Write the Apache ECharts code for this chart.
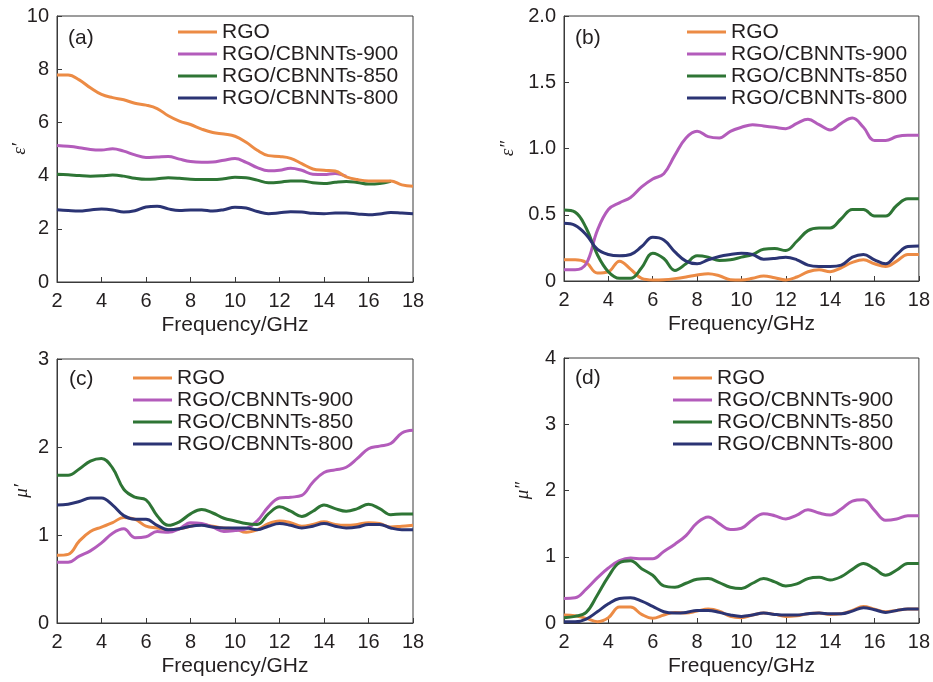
<!DOCTYPE html>
<html>
<head>
<meta charset="utf-8">
<script src="https://cdn.jsdelivr.net/npm/echarts@6/dist/echarts.min.js"></script>
<style>
  html, body { margin: 0; padding: 0; background: #fff; }
  #chart { width: 933px; height: 682px; }
</style>
</head>
<body>
<div id="chart"></div>
<script>
// Frequency sweep (GHz), sampled every 0.5 GHz
const freq = [2, 2.5, 3, 3.5, 4, 4.5, 5, 5.5, 6, 6.5, 7, 7.5, 8, 8.5, 9, 9.5, 10,
  10.5, 11, 11.5, 12, 12.5, 13, 13.5, 14, 14.5, 15, 15.5, 16, 16.5, 17, 17.5, 18];

const seriesNames = ['RGO', 'RGO/CBNNTs-900', 'RGO/CBNNTs-850', 'RGO/CBNNTs-800'];
const seriesColors = ['#EC8B45', '#B35CBB', '#2E7535', '#2B3474'];
const panelLabels = ['(a)', '(b)', '(c)', '(d)'];
const yNames = ['\u03b5\u2032', '\u03b5\u2033', '\u03bc\u2032', '\u03bc\u2033'];
const xName = 'Frequency/GHz';
const xTicks = { min: 2, max: 18, interval: 2 };
const yTicks = [
  { min: 0, max: 10, interval: 2 },
  { min: 0, max: 2, interval: 0.5 },
  { min: 0, max: 3, interval: 1 },
  { min: 0, max: 4, interval: 1 }
];

// (a) real permittivity ε′
const epsReal_RGO = [7.78, 7.78, 7.6, 7.3, 7.05, 6.93, 6.85, 6.72, 6.65, 6.52, 6.25, 6.05, 5.92, 5.75, 5.62, 5.56, 5.48,
  5.25, 4.95, 4.75, 4.72, 4.65, 4.45, 4.25, 4.2, 4.17, 3.95, 3.85, 3.8, 3.8, 3.8, 3.65, 3.6];
const epsReal_900 = [5.13, 5.1, 5.05, 4.98, 4.96, 5.01, 4.92, 4.78, 4.68, 4.7, 4.72, 4.62, 4.53, 4.5, 4.51, 4.58, 4.64,
  4.5, 4.3, 4.18, 4.2, 4.28, 4.2, 4.05, 4.04, 4.08, 3.97, null, null, null, null, null, null];
const epsReal_850 = [4.05, 4.03, 4.0, 3.98, 3.99, 4.02, 3.98, 3.9, 3.86, 3.88, 3.92, 3.9, 3.86, 3.85, 3.85, 3.88, 3.94,
  3.92, 3.83, 3.73, 3.75, 3.8, 3.8, 3.73, 3.7, 3.75, 3.78, 3.74, 3.68, 3.7, 3.79, null, null];
const epsReal_800 = [2.72, 2.69, 2.67, 2.71, 2.74, 2.71, 2.63, 2.68, 2.82, 2.85, 2.75, 2.69, 2.71, 2.71, 2.67, 2.72, 2.81,
  2.78, 2.65, 2.57, 2.6, 2.64, 2.63, 2.58, 2.57, 2.59, 2.59, 2.56, 2.53, 2.56, 2.61, 2.59, 2.57];

// (b) imaginary permittivity ε″
const epsImag_RGO = [0.16, 0.16, 0.14, 0.06, 0.07, 0.15, 0.09, 0.02, 0.008, 0.01, 0.018, 0.03, 0.045, 0.055, 0.04, 0.01, 0.008,
  0.02, 0.038, 0.025, 0.008, 0.03, 0.07, 0.085, 0.07, 0.1, 0.14, 0.16, 0.13, 0.11, 0.15, 0.2, 0.2];
const epsImag_900 = [0.085, 0.085, 0.13, 0.38, 0.54, 0.59, 0.63, 0.71, 0.77, 0.81, 0.95, 1.08, 1.13, 1.09, 1.08, 1.13, 1.16,
  1.18, 1.17, 1.16, 1.15, 1.19, 1.22, 1.18, 1.14, 1.19, 1.23, 1.16, 1.06, 1.06, 1.09, 1.1, 1.1];
const epsImag_850 = [0.535, 0.52, 0.4, 0.2, 0.07, 0.02, 0.02, 0.1, 0.21, 0.17, 0.08, 0.13, 0.19, 0.18, 0.155, 0.16, 0.18,
  0.2, 0.24, 0.245, 0.23, 0.3, 0.38, 0.4, 0.4, 0.47, 0.54, 0.54, 0.49, 0.49, 0.57, 0.62, 0.62];
const epsImag_800 = [0.435, 0.42, 0.35, 0.24, 0.2, 0.19, 0.2, 0.26, 0.33, 0.31, 0.22, 0.15, 0.13, 0.16, 0.185, 0.2, 0.21,
  0.2, 0.165, 0.17, 0.18, 0.16, 0.12, 0.11, 0.11, 0.12, 0.18, 0.2, 0.16, 0.13, 0.2, 0.26, 0.265];

// (c) real permeability μ′
const muReal_RGO = [0.77, 0.78, 0.93, 1.04, 1.09, 1.14, 1.2, 1.18, 1.1, 1.08, 1.06, 1.07, 1.1, 1.12, 1.1, 1.08, 1.07,
  1.03, 1.06, 1.13, 1.16, 1.14, 1.1, 1.12, 1.15, 1.12, 1.11, 1.12, 1.14, 1.13, 1.09, 1.1, 1.11];
const muReal_900 = [0.69, 0.69, 0.76, 0.82, 0.91, 1.02, 1.07, 0.97, 0.98, 1.04, 1.03, 1.07, 1.14, 1.13, 1.09, 1.04, 1.05,
  1.07, 1.16, 1.32, 1.42, 1.43, 1.45, 1.6, 1.71, 1.74, 1.77, 1.87, 1.98, 2.01, 2.04, 2.16, 2.19];
const muReal_850 = [1.68, 1.68, 1.75, 1.84, 1.87, 1.76, 1.52, 1.43, 1.4, 1.22, 1.11, 1.15, 1.24, 1.29, 1.25, 1.19, 1.16,
  1.13, 1.12, 1.24, 1.32, 1.27, 1.21, 1.27, 1.34, 1.3, 1.27, 1.3, 1.35, 1.3, 1.23, 1.24, 1.24];
const muReal_800 = [1.34, 1.35, 1.38, 1.42, 1.42, 1.34, 1.22, 1.18, 1.18, 1.11, 1.06, 1.07, 1.1, 1.11, 1.09, 1.08, 1.08,
  1.08, 1.06, 1.1, 1.13, 1.11, 1.08, 1.1, 1.13, 1.1, 1.08, 1.09, 1.12, 1.12, 1.08, 1.06, 1.06];

// (d) imaginary permeability μ″
const muImag_RGO = [0.12, 0.11, 0.07, 0.02, 0.08, 0.24, 0.24, 0.13, 0.07, 0.12, 0.16, 0.15, 0.18, 0.21, 0.18, 0.1, 0.08,
  0.12, 0.15, 0.13, 0.1, 0.11, 0.14, 0.15, 0.13, 0.14, 0.19, 0.25, 0.21, 0.17, 0.19, 0.21, 0.21];
const muImag_900 = [0.37, 0.38, 0.51, 0.68, 0.83, 0.94, 0.98, 0.97, 0.97, 1.08, 1.19, 1.32, 1.51, 1.6, 1.5, 1.41, 1.43,
  1.56, 1.65, 1.62, 1.57, 1.63, 1.71, 1.66, 1.63, 1.72, 1.84, 1.86, 1.7, 1.55, 1.57, 1.62, 1.62];
const muImag_850 = [0.08, 0.1, 0.16, 0.42, 0.7, 0.91, 0.94, 0.82, 0.72, 0.56, 0.54, 0.6, 0.66, 0.67, 0.61, 0.54, 0.52,
  0.6, 0.67, 0.62, 0.56, 0.59, 0.67, 0.69, 0.65, 0.7, 0.81, 0.9, 0.82, 0.72, 0.8, 0.9, 0.9];
const muImag_800 = [0.02, 0.02, 0.06, 0.17, 0.29, 0.37, 0.38, 0.33, 0.25, 0.17, 0.15, 0.16, 0.19, 0.19, 0.16, 0.12, 0.1,
  0.12, 0.15, 0.13, 0.12, 0.12, 0.14, 0.15, 0.14, 0.14, 0.18, 0.23, 0.2, 0.16, 0.19, 0.21, 0.21];

const panels = [
  [epsReal_RGO, epsReal_900, epsReal_850, epsReal_800],
  [epsImag_RGO, epsImag_900, epsImag_850, epsImag_800],
  [muReal_RGO, muReal_900, muReal_850, muReal_800],
  [muImag_RGO, muImag_900, muImag_850, muImag_800]
];

// Layout of the 2x2 panels
const grids = [
  { left: 57, top: 16, width: 356, height: 266 },
  { left: 564, top: 16, width: 355, height: 265 },
  { left: 57, top: 359, width: 356, height: 264 },
  { left: 564, top: 358, width: 355, height: 265 }
];
const yNameGap = [28, 47, 26, 32];
const legendPos = [
  { left: 173, top: 16 },
  { left: 682, top: 16 },
  { left: 128, top: 362 },
  { left: 668, top: 362 }
];
const labelPos = [
  { left: 68, top: 28 },
  { left: 575, top: 28 },
  { left: 69, top: 369 },
  { left: 575, top: 368 }
];

const axisColor = '#3a3a3a';
const textColor = '#231f20';
const fontFamily = '"Liberation Sans", Arial, sans-serif';

const option = {
  animation: false,
  textStyle: { fontFamily: fontFamily },
  grid: grids.map(g => Object.assign({
    show: true, borderColor: axisColor, borderWidth: 1, backgroundColor: 'transparent',
    containLabel: false
  }, g)),
  xAxis: grids.map((g, i) => ({
    type: 'value', gridIndex: i,
    min: xTicks.min, max: xTicks.max, interval: xTicks.interval,
    name: xName, nameLocation: 'middle', nameGap: 33, nameMoveOverlap: false,
    nameTextStyle: { fontSize: 21, color: textColor, fontFamily: fontFamily },
    axisLine: { show: true, lineStyle: { color: axisColor, width: 1 } },
    axisTick: { show: true, inside: true, length: 5, lineStyle: { color: axisColor } },
    axisLabel: { fontSize: 20, color: textColor, margin: 9, fontFamily: fontFamily },
    splitLine: { show: false }
  })),
  yAxis: grids.map((g, i) => ({
    type: 'value', gridIndex: i,
    min: yTicks[i].min, max: yTicks[i].max, interval: yTicks[i].interval,
    name: yNames[i], nameLocation: 'middle', nameRotate: 90, nameGap: yNameGap[i],
    nameMoveOverlap: false,
    nameTextStyle: { fontSize: 19, color: textColor, fontStyle: 'italic', fontFamily: '"Liberation Serif", "DejaVu Serif", serif' },
    axisLine: { show: true, lineStyle: { color: axisColor, width: 1 } },
    axisTick: { show: true, inside: true, length: 5, lineStyle: { color: axisColor } },
    axisLabel: {
      fontSize: 20, color: textColor, margin: 8, fontFamily: fontFamily,
      formatter: v => (i === 1 && v !== 0) ? v.toFixed(1) : String(v)
    },
    splitLine: { show: false }
  })),
  legend: legendPos.map(p => ({
    left: p.left, top: p.top, orient: 'vertical',
    data: seriesNames.map((n, k) => ({ name: n, itemStyle: { color: seriesColors[k] } })),
    icon: 'rect', itemWidth: 39, itemHeight: 3, itemGap: 0,
    selectedMode: false,
    textStyle: { fontSize: 21, lineHeight: 22, color: textColor, fontFamily: fontFamily }
  })),
  graphic: panelLabels.map((t, i) => ({
    type: 'text', left: labelPos[i].left, top: labelPos[i].top,
    style: { text: t, fontSize: 21, fill: textColor, fontFamily: fontFamily }
  })),
  series: []
};

panels.forEach((set, p) => {
  set.forEach((vals, k) => {
    const pts = [];
    vals.forEach((v, j) => { if (v !== null) pts.push([freq[j], v]); });
    option.series.push({
      type: 'line', name: seriesNames[k],
      xAxisIndex: p, yAxisIndex: p,
      data: pts, smooth: 0.4, symbol: 'none',
      lineStyle: { color: seriesColors[k], width: 3 },
      itemStyle: { color: seriesColors[k] },
      z: (p === 0 && k === 0) ? 3 : 2
    });
  });
});

const chart = echarts.init(document.getElementById('chart'), null, { renderer: 'canvas' });
chart.setOption(option);
</script>
</body>
</html>
